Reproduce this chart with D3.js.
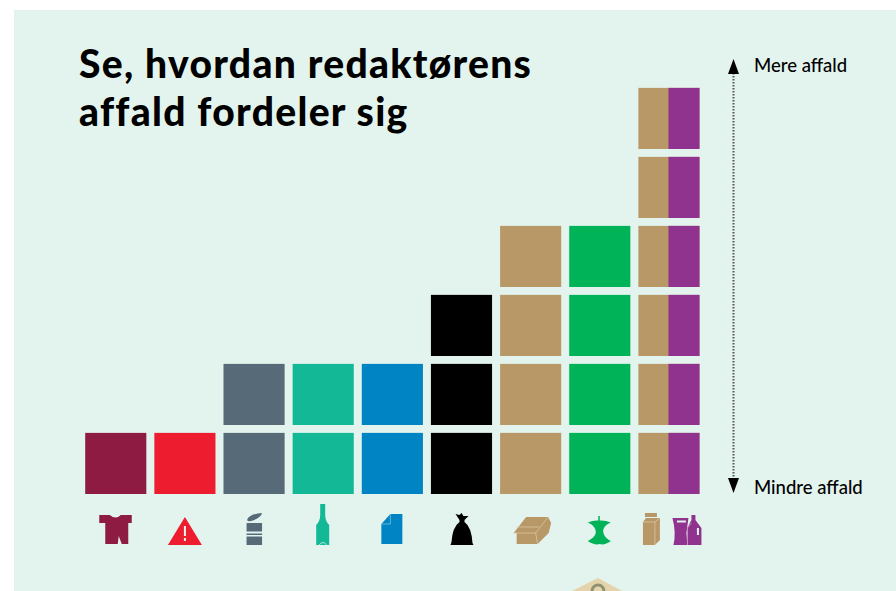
<!DOCTYPE html>
<html>
<head>
<meta charset="utf-8">
<script src="https://cdn.jsdelivr.net/npm/d3@7"></script>
<style>
  html, body { margin: 0; padding: 0; background: #fff; }
  svg { display: block; }
  text { font-family: Lato, "Open Sans", sans-serif; fill: #000; }
</style>
</head>
<body>
<div id="chart"></div>
<script>
// data
const categories = ['tekstil', 'farligt', 'metal', 'glas', 'papir', 'rest', 'pap', 'mad', 'karton'];
const counts = [1, 1, 2, 2, 2, 3, 4, 4, 6];
const colors = ['#8e1c42', '#ee1c2f', '#566a77', '#13b896', '#0084c4', '#000000', '#b99868', '#00b358', '#b99868'];
const splitColor = '#90338f';
const titleLines = ['Se, hvordan redaktørens', 'affald fordeler sig'];
const axisLabels = ['Mere affald', 'Mindre affald'];

const width = 896, height = 591;
const panelColor = '#e3f4ee';

let svg = d3.select('#chart').append('svg')
  .attr('width', width)
  .attr('height', height);

svg.append('rect')
  .attr('x', 14).attr('y', 10)
  .attr('width', width - 14).attr('height', height - 10)
  .attr('fill', panelColor);

let x = d3.scaleBand()
  .domain(categories)
  .range([85.2, 699.5])
  .paddingInner(0.116);

let y = d3.scaleLinear()
  .domain([0, 6])
  .range([494, 80]);

let cellH = x.bandwidth();

// one cell per unit of waste
let cells = [];
categories.forEach((c, i) => {
  d3.range(counts[i]).forEach(level => {
    cells.push({ cat: c, level: level, color: colors[i] });
  });
});

svg.selectAll('.cell')
  .data(cells)
  .enter().append('rect')
  .attr('class', 'cell')
  .attr('x', d => x(d.cat))
  .attr('y', d => y(d.level) - cellH)
  .attr('width', x.bandwidth())
  .attr('height', cellH)
  .attr('fill', d => d.color);

// last column is shared between two fractions
svg.selectAll('.split')
  .data(cells.filter(d => d.cat === 'karton'))
  .enter().append('rect')
  .attr('class', 'split')
  .attr('x', d => x(d.cat) + x.bandwidth() / 2 - 0.5)
  .attr('y', d => y(d.level) - cellH)
  .attr('width', x.bandwidth() / 2 + 0.5)
  .attr('height', cellH)
  .attr('fill', splitColor);

// icons, local coordinates around the column centre with baseline at 0
// each part: [path, fill, stroke]
const icons = {
  tekstil: [
    ['M-16.5,-30 L-6,-30 Q0,-25 5,-30 L16,-30 L16,-22 L12.5,-22 L12.5,-1 L-10.5,-1 L-10.5,-22 L-16.5,-22 Z', colors[0]],
    ['M3,-9 L6,-1 L2,-1 Z', panelColor]
  ],
  farligt: [
    ['M0,-28 L17,0 L-17,0 Z', colors[1]],
    ['M-1,-19 L1,-19 L1,-9 L-1,-9 Z M-1,-7 L1,-7 L1,-4 L-1,-4 Z', panelColor]
  ],
  metal: [
    ['M-7.5,-22 L8,-22 L8,-13.5 L-7.5,-13.5 Z M-7.5,-11.5 L8,-11.5 L8,-10 L-7.5,-10 Z M-7.5,-8.5 L8,-8.5 L8,0 L-7.5,0 Z', colors[2]],
    ['M-7,-25 Q-5,-31 8,-32 Q7,-27 -3,-24 Q-6,-23 -7,-25 Z', colors[2]]
  ],
  glas: [
    ['M-3,-41 L2,-41 L2,-30 Q2,-24 6,-20 L6,0 L-7,0 L-7,-20 Q-3,-24 -3,-30 Z', colors[3]],
    ['M-4,0 Q-0.5,-5 3.5,0', 'none', panelColor]
  ],
  papir: [
    ['M-11,-21 L-2,-31 L10,-31 L10,-1 L-11,-1 Z', colors[4]],
    ['M-2,-31 L-2,-21 L-11,-21', 'none', '#7fc0e0']
  ],
  rest: [
    ['M-6,-31 L-2,-30 L0,-32 L2,-29 L7,-29 L3,-25 L3,-23 Q10,-18 11,-2 L12,0 L-11,0 L-10,-3 Q-9,-18 -2,-23 L-2,-25 Z', colors[5]]
  ],
  pap: [
    ['M-17,-12 L-4.5,-28 L17.5,-28 L20.5,-22 L18,-12 L7,-1 L-14,-1 L-14,-12 Z', colors[6]],
    ['M-17,-12 L5,-12 L7,-1 M5,-12 L17.5,-28 M-14,-18 L8,-18', 'none', '#d8c6a4']
  ],
  mad: [
    ['M-1.5,-29 L0,-29 L0,-24.5 Q5,-25 11,-22.5 C5,-20 3,-16 3.5,-13 C4,-9 7,-6 11,-4 C7,-1 3,0 0,-1 C-3,0 -8,-1 -12,-4 C-8,-6 -4,-9 -4,-13 C-4,-16 -6,-20 -12,-22.5 Q-6,-25 -1.5,-24.5 Z', colors[7]]
  ],
  // karton and plastic icons sit side by side, so these two are offset from the column centre
  karton: [
    ['M-24,-32 L-12,-32 L-12,-28 L-24,-28 Z', colors[8]],
    ['M-26,-23 L-23,-27 L-9,-27 L-9,-5 L-14,0 L-26,0 Z', colors[8]],
    ['M-26,-23 L-14,-23 L-14,0 M-14,-23 L-9,-27', 'none', '#d8c6a4'],
    ['M3.5,-27 L19.5,-27 L17.5,-12 L18.5,0 L4.5,0 Q7.5,-12 3.5,-27 Z', splitColor],
    ['M22.5,-30 L26.5,-30 L26.5,-25 L32.5,-17 L32.5,0 L18.5,0 L18.5,-17 L22.5,-25 Z', splitColor],
    ['M22.5,-22 L18.5,-17 L18.5,0', 'none', '#c99bc8'],
    ['M8,-24.5 L17,-24.5 L17,-22.5 L8,-22.5 Z M28,-17 L30,-17 L30,-10 L28,-10 Z', panelColor]
  ]
};

svg.selectAll('.icon')
  .data(categories)
  .enter().append('g')
  .attr('class', 'icon')
  .attr('transform', c => 'translate(' + (x(c) + x.bandwidth() / 2) + ',545)')
  .selectAll('path')
  .data(c => icons[c])
  .enter().append('path')
  .attr('d', d => d[0])
  .attr('fill', d => d[1])
  .attr('stroke', d => d[2] || 'none')
  .attr('stroke-width', 0.8);

// title
svg.selectAll('.title')
  .data(titleLines)
  .enter().append('text')
  .attr('class', 'title')
  .attr('x', 79)
  .attr('y', (d, i) => 78 + i * 47.5)
  .attr('font-size', 39)
  .attr('font-weight', 900)
  .attr('letter-spacing', 1.3)
  .text(d => d);

// dotted scale arrow on the right
svg.append('line')
  .attr('x1', 733.5).attr('x2', 733.5)
  .attr('y1', 73).attr('y2', 478)
  .attr('stroke', '#555')
  .attr('stroke-width', 2)
  .attr('stroke-dasharray', '1.5,1.5');
svg.append('path').attr('d', 'M733.5,59 L739,74 L728,74 Z').attr('fill', '#000');
svg.append('path').attr('d', 'M733.5,493 L739,478 L728,478 Z').attr('fill', '#000');

svg.selectAll('.axis-label')
  .data(axisLabels)
  .enter().append('text')
  .attr('class', 'axis-label')
  .attr('x', 754)
  .attr('y', (d, i) => i === 0 ? 71.5 : 493.5)
  .attr('font-size', 18.5)
  .attr('font-weight', 500)
  .text(d => d);

// corner of the photo that starts below the chart
svg.append('path').attr('d', 'M572,591 L598,578 L622,591 Z').attr('fill', '#e5d3ac');
svg.append('circle').attr('cx', 598).attr('cy', 591).attr('r', 6)
  .attr('fill', 'none').attr('stroke', '#8f9270').attr('stroke-width', 3);
</script>
</body>
</html>
